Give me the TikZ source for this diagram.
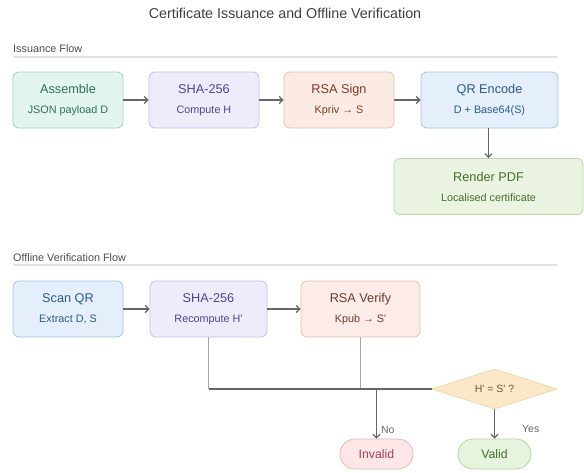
\documentclass[tikz,border=0pt]{standalone}
\usepackage{fontspec}
\setmainfont{Liberation Sans}
\usetikzlibrary{shapes.geometric,arrows.meta}

\definecolor{mintF}{HTML}{E3F5EF}\definecolor{mintD}{HTML}{9FD3BD}\definecolor{mintT}{HTML}{2F6F55}
\definecolor{lavF}{HTML}{EEECFB}\definecolor{lavD}{HTML}{C3BFE8}\definecolor{lavT}{HTML}{4E4396}
\definecolor{peaF}{HTML}{FCEBE3}\definecolor{peaD}{HTML}{E3C2B3}\definecolor{peaT}{HTML}{7A3B2A}
\definecolor{bluF}{HTML}{E4EFFB}\definecolor{bluD}{HTML}{A9C3E0}\definecolor{bluT}{HTML}{2D5B86}
\definecolor{grnF}{HTML}{EAF4E0}\definecolor{grnD}{HTML}{BCD6A8}\definecolor{grnT}{HTML}{4A6B30}
\definecolor{verF}{HTML}{FCEBE6}\definecolor{verD}{HTML}{E3C0B8}\definecolor{verT}{HTML}{6E3A33}
\definecolor{decF}{HTML}{FBE8C8}\definecolor{decD}{HTML}{F0D8A8}\definecolor{decT}{HTML}{6B5A3A}
\definecolor{badF}{HTML}{FCE6E8}\definecolor{badD}{HTML}{E7B7BD}\definecolor{badT}{HTML}{A3434F}
\definecolor{okF}{HTML}{E6F4DD}\definecolor{okD}{HTML}{B4D6A0}\definecolor{okT}{HTML}{3F6E30}
\definecolor{wire}{HTML}{666666}

\newcommand{\stage}[2]{{\fontsize{12.7}{20}\selectfont #1}\\{\fontsize{10.8}{20}\selectfont #2}}

\tikzset{
stagebox/.style n args={3}{
  draw=#2,fill=#1,text=#3,rounded corners=6pt,line width=0.8pt,
  align=center,minimum height=56pt,inner sep=0pt,
  font=\fontsize{12.7}{20}\selectfont},
flow/.style={draw=wire,line width=1.3pt,-{Straight Barb[length=3.5pt,width=7pt]}},
feed/.style={draw=gray!70,line width=0.6pt},
bus/.style={draw=wire,line width=1.3pt},
rule/.style={draw=black!12,line width=1.2pt},
pill/.style n args={3}{
  draw=#2,fill=#1,text=#3,rounded corners=15pt,line width=0.8pt,
  minimum width=73pt,minimum height=30pt,inner sep=0pt,
  font=\fontsize{12.3}{14}\selectfont}}

\begin{document}
\begin{tikzpicture}[x=1pt,y=-1pt]
\useasboundingbox (0,0) rectangle (584,472);

\node (title) at (285,13) {\fontsize{14.3}{16}\selectfont\color{black!75}Certificate Issuance and Offline Verification};

% issuance
\node[anchor=west,inner sep=0pt,text=black!70,font=\fontsize{10.8}{12}\selectfont] (iss) at (13,49) {Issuance Flow};
\draw[rule] (13,57) -- (557,57);

\node[stagebox={mintF}{mintD}{mintT},minimum width=110pt] (asm) at (68,100) {\stage{Assemble}{JSON payload D}};
\node[stagebox={lavF}{lavD}{lavT},minimum width=110pt] (sha) at (204,100) {\stage{SHA-256}{Compute H}};
\node[stagebox={peaF}{peaD}{peaT},minimum width=110pt] (sig) at (339,100) {\stage{RSA Sign}{Kpriv → S}};
\node[stagebox={bluF}{bluD}{bluT},minimum width=137pt] (qr) at (489.5,100) {\stage{QR Encode}{D + Base64(S)}};
\node[stagebox={grnF}{grnD}{grnT},minimum width=189pt] (pdf) at (488.5,186.5) {\stage{Render PDF}{Localised certificate}};

\draw[flow] (asm) -- (sha);
\draw[flow] (sha) -- (sig);
\draw[flow] (sig) -- (qr);
\draw[flow] (qr.south -| pdf.north) -- (pdf.north);

% verification
\node[anchor=west,inner sep=0pt,text=black!70,font=\fontsize{10.8}{12}\selectfont] (off) at (13,258) {Offline Verification Flow};
\draw[rule] (13,265) -- (557,265);

\node[stagebox={bluF}{bluD}{bluT},minimum width=110pt] (scan) at (68,309) {\stage{Scan QR}{Extract D, S}};
\node[stagebox={lavF}{lavD}{lavT},minimum width=117pt] (sha2) at (208.5,309) {\stage{SHA-256}{Recompute H\textquotesingle}};
\node[stagebox={verF}{verD}{verT},minimum width=119pt] (ver) at (360.5,309) {\stage{RSA Verify}{Kpub → S\textquotesingle}};

\node[diamond,draw=decD,fill=decF,text=decT,line width=0.8pt,aspect=3.125,
  minimum width=125pt,minimum height=40pt,inner sep=0pt,
  font=\fontsize{10.5}{12}\selectfont] (chk) at (494.5,389) {H\textquotesingle{} = S\textquotesingle{} ?};

\node[pill={badF}{badD}{badT}] (inv) at (376.5,454) {Invalid};
\node[pill={okF}{okD}{okT}] (val) at (494.5,454) {Valid};

\draw[flow] (scan) -- (sha2);
\draw[flow] (sha2) -- (ver);
\draw[feed] (sha2.south) -- (sha2.south |- chk.west);
\draw[feed] (ver.south) -- (ver.south |- chk.west);
\draw[bus] (sha2.south |- chk.west) -- (chk.west);
\draw[flow] (inv.north |- chk.west) -- (inv.north)
  node[pos=.82,anchor=west,xshift=2pt,inner sep=2pt,text=black!60,font=\fontsize{10.5}{12}\selectfont] {No};
\draw[flow] (chk.south) -- (val.north)
  node[pos=.67,anchor=west,xshift=25pt,inner sep=2pt,text=black!60,font=\fontsize{10.5}{12}\selectfont] {Yes};

\end{tikzpicture}
\end{document}
